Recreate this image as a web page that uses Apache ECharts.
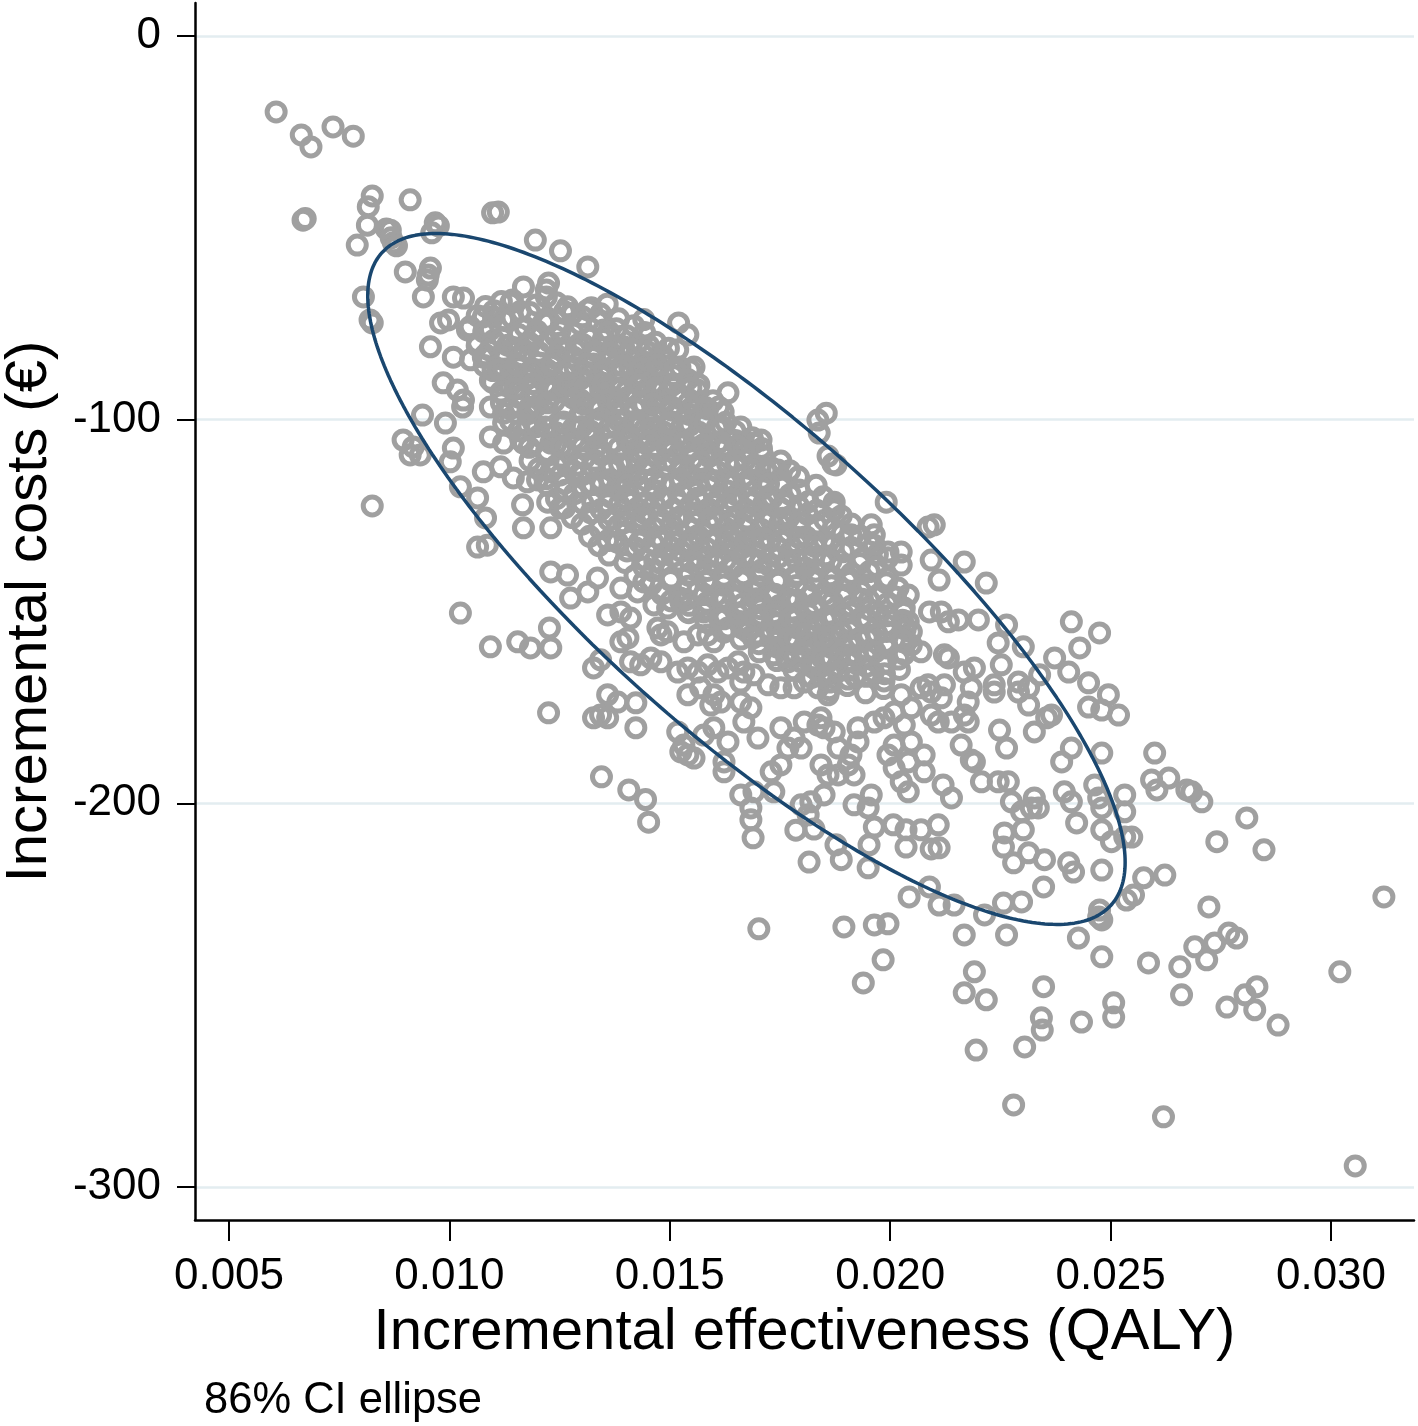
<!DOCTYPE html>
<html><head><meta charset="utf-8">
<script src="https://cdn.jsdelivr.net/npm/echarts@6/dist/echarts.min.js"></script>
<style>html,body{margin:0;padding:0;background:#fff}#c{width:1418px;height:1426px}</style>
</head><body><div id="c"></div>
<script>
const xTicks = [0.005, 0.010, 0.015, 0.020, 0.025, 0.030];
const yTicks = [0, -100, -200, -300];
const xTitle = 'Incremental effectiveness (QALY)';
const yTitle = 'Incremental costs (€)';
const note = '86% CI ellipse';

const upperLeftPoints = [
[0.00607,-19.8],[0.00664,-25.8],[0.00686,-28.9],[0.00736,-23.7],[0.00782,-26.1],[0.00668,-48.0],[0.00673,-47.6],
[0.00825,-41.7],[0.00816,-44.5],[0.00814,-49.3],[0.00791,-54.5],[0.00911,-42.7],[0.00866,-50.6],[0.00873,-53.9],
[0.00857,-50.3],[0.00868,-52.6],[0.0088,-54.7],[0.00968,-48.7],[0.0096,-51.3],[0.00975,-49.5],[0.01098,-46.1],[0.01111,-45.9],
[0.00805,-68.0],[0.0082,-74.0],[0.00825,-74.8],[0.009,-61.5],[0.00957,-60.5],[0.00952,-62.3],[0.0095,-63.6],[0.00941,-68.0],
[0.01009,-68.0],[0.01032,-68.3],[0.01195,-53.2],[0.01252,-56.0],[0.01314,-60.2],[0.01168,-65.4],[0.01143,-68.8],[0.0122,-66.2],[0.0122,-68.0],
[0.0098,-74.8],[0.00998,-74.0],[0.00957,-81.0],[0.011,-73.2],[0.01123,-74.0],[0.01041,-76.6],[0.01064,-80.0],[0.00986,-90.4],
[0.01018,-92.3],[0.01032,-94.9],[0.0103,-96.7],[0.01009,-83.7],[0.01048,-84.4],[0.01077,-83.7],[0.01093,-89.7],[0.01123,-87.8],[0.01155,-89.7],
[0.01155,-81.8],[0.01177,-80.0],[0.01191,-78.4],[0.01093,-96.7],[0.01123,-98.3],[0.01123,-100.9],[0.00939,-98.8],[0.00991,-100.9],
[0.00895,-105.3],[0.00918,-107.1],[0.01009,-107.4],[0.01093,-104.5],[0.01123,-106.1],[0.01168,-106.1],[0.01191,-96.7],[0.01191,-100.9],
[0.01077,-73.2],[0.01139,-69.6],
[0.01225,-64.4],[0.01268,-70.6],[0.01314,-71.4],[0.0135,-76.6],[0.01395,-81.0],[0.01377,-85.7],[0.01427,-84.4],[0.01457,-85.2],[0.01473,-87.0],
[0.0152,-74.8],[0.01541,-77.9],[0.01518,-81.8],[0.01555,-86.3],[0.01507,-87.0],[0.01632,-93.0],[0.01611,-96.7],[0.01555,-97.5],[0.01661,-101.9],[0.01707,-105.3],
[0.01836,-100.1],[0.01855,-98.3],[0.01839,-103.5],[0.01441,-90.4],[0.01464,-92.3],[0.01434,-95.6],[0.01489,-95.6],[0.01505,-97.5],
[0.01282,-83.7],[0.0132,-87.8],[0.01343,-92.3],[0.01373,-96.7],[0.01395,-100.1],[0.01411,-105.3],[0.01457,-100.9],[0.01473,-104.5],[0.01502,-106.1],
[0.01223,-74.8],[0.01252,-80.0],[0.01236,-85.2],[0.01268,-90.4],[0.01223,-92.3],[0.01298,-94.9],[0.01252,-100.9],[0.01314,-102.7],[0.0123,-106.1],
[0.01555,-104.5],[0.01586,-106.1],[0.01616,-107.9],[0.01661,-106.1],[0.01691,-106.1],
[0.01859,-109.5],[0.0187,-111.5],[0.01745,-113.1],[0.01718,-113.1]
];

const lowerLeftPoints = [
[0.00825,-122.5],[0.00911,-109.2],[0.00934,-109.2],[0.01002,-111.0],[0.01025,-117.5],[0.01064,-120.4],[0.01082,-125.6],[0.01064,-133.2],[0.01086,-132.7],
[0.01077,-113.6],[0.01116,-112.3],[0.01145,-115.2],[0.01177,-116.2],[0.012,-115.7],[0.01166,-122.2],[0.01168,-128.2],
[0.01025,-150.4],[0.01093,-159.2],[0.01155,-157.9],[0.01184,-159.5],[0.01225,-176.4],[0.01227,-154.3],
[0.01345,-193.1],[0.01407,-196.5],[0.01445,-199.0],[0.01452,-204.9],
[0.01689,-209.0],[0.01684,-204.3],[0.01786,-207.0],[0.01827,-206.7],[0.01816,-215.3],[0.01702,-232.7],
[0.0123,-139.7],[0.01268,-140.5],[0.01275,-146.5],[0.01314,-144.9],[0.01336,-141.3],[0.0123,-159.5],
[0.01327,-164.7],[0.01343,-162.6],[0.01359,-171.7],[0.01382,-173.6],[0.01343,-177.0],[0.01327,-177.7],[0.01359,-177.7],[0.01423,-173.8],[0.01423,-180.3],
[0.01518,-181.4],[0.01532,-184.8],[0.01541,-187.4],[0.01555,-188.2],[0.01525,-186.6],[0.01577,-182.2],[0.016,-180.3],[0.01632,-184.0],[0.01623,-189.2],[0.01623,-191.8],
[0.01661,-173.6],[0.01668,-178.8],[0.01684,-175.1],[0.017,-183.0],[0.01661,-197.8],[0.01684,-201.2],[0.01691,-197.0],
[0.0173,-191.8],[0.01752,-190.0],[0.01736,-197.0],[0.01752,-180.3],[0.01782,-183.0],[0.01798,-185.6],[0.01768,-185.6],
[0.01805,-178.8],[0.01836,-179.6],[0.0185,-180.3],[0.01798,-200.4],[0.0182,-199.6],[0.01814,-203.0],[0.0185,-197.8],[0.01843,-190.0],[0.01859,-192.6],
[0.01541,-171.7],[0.0157,-169.9],[0.016,-171.7],[0.01616,-173.6],[0.01593,-174.4],
[0.01518,-165.8],[0.01541,-164.7],[0.01564,-165.8],[0.01586,-163.9],[0.01609,-165.8],[0.01632,-164.7],[0.01655,-163.1],[0.01668,-165.8],[0.01691,-166.5],[0.01661,-168.4],
[0.01723,-169.1],[0.01752,-169.9],[0.01782,-169.9],[0.01805,-168.4],
[0.01457,-162.1],[0.0148,-163.1],[0.01434,-163.9],[0.01411,-163.1],[0.01389,-157.9],[0.01405,-156.9],
[0.01359,-150.9],[0.01389,-150.1],[0.01411,-151.7],[0.01473,-154.3],[0.0148,-156.1],[0.01495,-155.3],
[0.01532,-157.9],[0.01564,-156.1],[0.01586,-156.1],[0.016,-157.9],
[0.0123,-113.6],[0.01252,-114.4],[0.01223,-121.5],[0.01252,-123.0],[0.0123,-128.2],
[0.01389,-143.9],[0.01427,-144.9],[0.01441,-142.3],[0.01464,-148.3],[0.01495,-149.1],[0.01525,-147.5],[0.01541,-150.1],[0.01577,-150.1],
[0.01632,-154.3],[0.01661,-152.7],[0.01677,-155.3],
[0.01707,-150.9],[0.01736,-152.7],[0.01752,-156.1],[0.01782,-157.9],[0.01814,-154.3],[0.01827,-159.5],[0.0185,-157.9],
[0.01736,-161.3],[0.01768,-163.1],[0.01798,-163.1],[0.01827,-164.7],[0.01859,-163.1],
[0.01843,-177.7],[0.01859,-171.7],[0.01836,-169.9]
];

const rightPoints = [
[0.01895,-232.2],[0.01964,-231.7],[0.01995,-231.4],[0.01984,-240.8],[0.01939,-246.8],[0.02168,-234.3],[0.02191,-243.9],[0.02168,-249.4],[0.02218,-251.2],[0.02195,-264.3],
[0.02264,-234.3],[0.02348,-247.8],[0.02343,-255.9],[0.02345,-259.1],[0.02305,-263.5],[0.0228,-278.6],[0.02434,-257.0],[0.02427,-235.1],[0.0248,-240.0],
[0.02507,-252.0],[0.02507,-255.7],[0.02475,-227.8],[0.0248,-230.4],[0.02473,-229.6],[0.0248,-217.4],[0.02043,-224.4],[0.02089,-221.8],[0.02111,-226.5],[0.02145,-226.5],
[0.02214,-229.1],[0.02257,-226.0],[0.02298,-225.7],[0.02348,-221.8],[0.01889,-214.7],[0.01877,-210.8],[0.0195,-216.8],[0.01952,-210.8],
[0.01964,-206.2],[0.02007,-205.6],[0.02036,-206.9],[0.0207,-206.9],[0.02109,-205.6],[0.02036,-211.4],[0.02093,-211.9],[0.02111,-211.6],
[0.02259,-207.7],[0.02257,-211.4],[0.0228,-215.5],[0.02302,-206.9],[0.02314,-212.9],[0.0235,-214.7],[0.02405,-215.5],[0.02416,-217.9],
[0.02423,-205.1],[0.0248,-206.9],[0.02502,-210.0],
[0.026,-186.9],[0.02593,-193.9],[0.02605,-196.5],[0.02632,-193.4],[0.02673,-196.5],[0.02684,-197.0],[0.02707,-199.6],
[0.02532,-197.8],[0.02532,-202.2],[0.02532,-208.8],[0.02548,-208.8],[0.02809,-203.8],[0.02741,-210.0],[0.02848,-212.1],
[0.02575,-219.4],[0.02623,-218.7],[0.02552,-223.9],[0.02536,-225.2],[0.0312,-224.4],[0.02723,-227.0],[0.02768,-233.8],[0.02786,-235.1],
[0.02691,-237.4],[0.02736,-236.4],[0.02718,-240.8],[0.02586,-241.6],[0.02657,-242.6],[0.02661,-249.9],[0.02764,-253.1],[0.02805,-249.9],[0.02832,-247.8],[0.02827,-253.8],
[0.0288,-257.8],[0.0302,-243.9],[0.0262,-281.7],[0.03055,-294.5],
[0.01877,-111.8],[0.01991,-121.5],[0.02086,-128.0],[0.021,-127.4],[0.02168,-137.1],[0.02218,-142.6],[0.02093,-136.6],[0.02111,-141.8],
[0.02411,-152.7],[0.02475,-155.6],[0.02264,-153.5],[0.02245,-158.2],[0.02302,-159.2],[0.0243,-159.5],[0.02373,-162.1],[0.02405,-165.8],[0.02339,-166.5],
[0.0245,-168.6],[0.02495,-171.7],[0.02518,-177.0],
[0.0245,-174.9],[0.0248,-175.7],[0.02314,-174.4],[0.02355,-177.7],[0.02366,-177.0],[0.02327,-181.4],[0.02248,-180.9],[0.02264,-185.6],
[0.02411,-185.6],[0.02389,-189.2],[0.0248,-186.9],
[0.02236,-169.1],[0.02236,-171.0],[0.02291,-168.4],[0.02291,-171.0],[0.02314,-169.9],[0.02252,-163.9],
[0.02168,-165.8],[0.02191,-164.7],[0.02184,-169.9],[0.02177,-173.6],[0.02155,-152.2],[0.022,-152.2],[0.02168,-177.0],[0.02177,-178.8],
[0.02161,-184.8],[0.02184,-188.7],[0.02191,-189.2],[0.02207,-194.4],[0.02245,-194.4],[0.02268,-194.4],[0.0212,-195.2],[0.02139,-198.6],
[0.02327,-198.6],[0.02336,-201.2],[0.02395,-197.0],[0.02411,-199.6],[0.02464,-195.2],[0.02473,-198.6],[0.0248,-201.2],
[0.02275,-199.6],[0.02298,-202.2],[0.0232,-201.2],
[0.0207,-169.9],[0.02086,-169.1],[0.02093,-171.0],[0.02116,-172.5],[0.02123,-169.1],[0.02093,-177.0],[0.02109,-178.8],[0.02139,-178.8],
[0.0207,-160.5],[0.02048,-158.7],[0.02123,-161.3],[0.02132,-162.1],[0.02089,-150.1],[0.02116,-150.1],[0.02132,-152.7],
[0.02041,-152.7],[0.02048,-155.3],[0.02032,-157.9],
[0.02025,-134.5],[0.02025,-137.9],[0.01995,-136.0],[0.01995,-134.5],[0.01964,-132.7],[0.01964,-130.0],[0.01957,-127.4],[0.01911,-130.0],
[0.01873,-121.5],[0.01873,-123.5],[0.02018,-143.9],[0.02041,-145.7],[0.02032,-149.1],
[0.02025,-171.7],[0.02048,-175.1],[0.02032,-179.6],[0.02048,-184.0],[0.02009,-184.8],
[0.01995,-187.4],[0.02009,-190.8],[0.02041,-189.2],[0.02025,-194.4],[0.02041,-197.0],[0.02077,-187.4],[0.02077,-191.8],
[0.01957,-197.8],[0.01918,-200.4],[0.0195,-201.2],
[0.01873,-181.4],[0.01882,-185.6],[0.01905,-190.0],[0.01918,-192.6],[0.01882,-192.6],[0.01911,-187.4],[0.01927,-180.3],[0.01927,-184.0],
[0.01964,-178.8],[0.01986,-177.7],[0.02009,-176.2]
];

// estimated positions inside the dense, overlapping core
const corePoints = [
[0.01082,-70.5],[0.01118,-69.2],[0.01161,-71.8],[0.01197,-70.1],[0.01243,-69.5],[0.01279,-72.3],[0.01322,-70.8],[0.01358,-69.9],
[0.01047,-75.8],[0.01093,-76.5],[0.01128,-74.2],[0.01172,-75.9],[0.01214,-74.6],[0.01251,-76.8],[0.01296,-75.1],[0.01337,-74.4],[0.01379,-76.3],[0.01418,-75.5],[0.01441,-73.9],
[0.01063,-80.7],[0.01101,-79.3],[0.01145,-81.2],[0.01183,-80.1],[0.01226,-79.6],[0.01264,-81.9],[0.01303,-80.4],[0.01349,-79.1],[0.01386,-81.5],[0.01427,-80.2],[0.01468,-79.8],[0.01497,-81.4],
[0.01079,-85.9],[0.01121,-84.3],[0.01158,-86.1],[0.01204,-85.2],[0.01242,-84.1],[0.01285,-86.4],[0.01327,-85.5],[0.01366,-84.2],[0.01409,-86.2],[0.01448,-85.1],[0.01489,-84.6],[0.01523,-86.3],
[0.01098,-90.3],[0.01137,-91.4],[0.01176,-89.2],[0.01219,-90.8],[0.01259,-91.6],[0.01297,-89.4],[0.01339,-90.1],[0.01382,-91.8],[0.01421,-89.7],[0.01462,-90.6],[0.01503,-91.2],[0.01541,-89.5],[0.01566,-90.9],
[0.01118,-95.6],[0.01157,-94.1],[0.01199,-96.3],[0.01238,-95.2],[0.01281,-94.4],[0.01322,-96.5],[0.01361,-95.3],[0.01403,-94.2],[0.01441,-96.1],[0.01483,-95.4],[0.01524,-94.6],[0.01562,-96.2],[0.01598,-95.1],
[0.01139,-100.4],[0.01178,-101.6],[0.01221,-99.3],[0.01262,-100.9],[0.01301,-101.8],[0.01343,-99.6],[0.01384,-100.3],[0.01426,-101.9],[0.01463,-99.5],[0.01505,-100.6],[0.01546,-101.4],[0.01584,-99.8],[0.01627,-100.7],
[0.01162,-105.3],[0.01203,-104.2],[0.01241,-106.4],[0.01283,-105.1],[0.01324,-104.3],[0.01366,-106.2],[0.01404,-105.6],[0.01447,-104.1],[0.01488,-106.1],[0.01527,-105.2],[0.01569,-104.6],[0.01608,-106.3],[0.01649,-105.4],[0.01687,-104.7],
[0.01183,-110.7],[0.01221,-109.4],[0.01264,-111.2],[0.01306,-110.1],[0.01345,-109.2],[0.01386,-111.5],[0.01428,-110.4],[0.01469,-109.3],[0.01508,-111.1],[0.01551,-110.2],[0.01589,-109.6],[0.01631,-111.4],[0.01672,-110.5],[0.01711,-109.4],[0.01752,-110.8],
[0.01219,-115.4],[0.01261,-116.6],[0.01302,-114.3],[0.01343,-115.9],[0.01384,-116.7],[0.01424,-114.5],[0.01465,-115.3],[0.01506,-116.8],[0.01547,-114.6],[0.01588,-115.7],[0.01629,-116.4],[0.01669,-114.8],[0.01709,-115.6],[0.01751,-116.5],[0.01792,-114.9],
[0.01243,-120.6],[0.01284,-119.3],[0.01325,-121.4],[0.01366,-120.2],[0.01406,-119.4],[0.01447,-121.6],[0.01488,-120.5],[0.01528,-119.2],[0.01569,-121.3],[0.01611,-120.4],[0.01651,-119.6],[0.01692,-121.2],[0.01733,-120.3],[0.01773,-119.5],[0.01814,-121.4],[0.01848,-120.1],
[0.01279,-125.5],[0.01321,-124.3],[0.01362,-126.2],[0.01402,-125.1],[0.01443,-124.4],[0.01484,-126.3],[0.01526,-125.2],[0.01566,-124.1],[0.01607,-126.4],[0.01648,-125.3],[0.01689,-124.2],[0.01729,-126.1],[0.01771,-125.4],[0.01812,-124.6],[0.01852,-126.2],[0.01889,-125.1],
[0.01318,-130.4],[0.01359,-131.5],[0.01401,-129.3],[0.01442,-130.8],[0.01482,-131.6],[0.01523,-129.4],[0.01564,-130.2],[0.01605,-131.7],[0.01646,-129.5],[0.01687,-130.6],[0.01728,-131.3],[0.01769,-129.6],[0.01809,-130.5],[0.01851,-131.4],[0.01891,-129.7],[0.01932,-130.3],
[0.01362,-135.3],[0.01403,-134.2],[0.01444,-136.4],[0.01485,-135.1],[0.01526,-134.3],[0.01567,-136.2],[0.01608,-135.4],[0.01649,-134.1],[0.01689,-136.3],[0.01731,-135.2],[0.01772,-134.5],[0.01812,-136.1],[0.01853,-135.5],[0.01894,-134.4],[0.01936,-136.2],[0.01971,-135.1],
[0.01421,-140.6],[0.01462,-139.4],[0.01503,-141.3],[0.01544,-140.2],[0.01585,-139.3],[0.01626,-141.5],[0.01667,-140.4],[0.01708,-139.2],[0.01749,-141.4],[0.01789,-140.3],[0.01831,-139.5],[0.01872,-141.2],[0.01912,-140.1],[0.01953,-139.6],[0.01994,-141.3],
[0.01482,-145.4],[0.01523,-146.5],[0.01564,-144.3],[0.01605,-145.8],[0.01646,-146.4],[0.01687,-144.6],[0.01728,-145.3],[0.01769,-146.6],[0.01809,-144.4],[0.01851,-145.5],[0.01892,-146.3],[0.01933,-144.7],[0.01974,-145.6],[0.02012,-146.2],
[0.01543,-150.3],[0.01584,-149.4],[0.01625,-151.2],[0.01666,-150.1],[0.01707,-149.3],[0.01748,-151.4],[0.01789,-150.5],[0.01829,-149.2],[0.01871,-151.3],[0.01912,-150.4],[0.01953,-149.5],[0.01994,-151.1],[0.02031,-150.2],
[0.01623,-155.4],[0.01664,-154.3],[0.01705,-156.2],[0.01746,-155.1],[0.01787,-154.2],[0.01828,-156.4],[0.01869,-155.3],[0.01909,-154.5],[0.01951,-156.1],[0.01992,-155.2],[0.02034,-154.6],
[0.01703,-160.5],[0.01744,-159.3],[0.01785,-161.2],[0.01826,-160.1],[0.01867,-159.4],[0.01908,-161.3],[0.01949,-160.2],[0.01991,-159.5],[0.02032,-161.1],
[0.01782,-165.3],[0.01823,-164.2],[0.01864,-166.1],[0.01905,-165.4],[0.01946,-164.3],[0.01987,-166.2],[0.02021,-165.1],
[0.01862,-170.4],[0.01903,-169.3],[0.01944,-171.2],[0.01985,-170.1]
];

// second layer of estimated positions in the overlapping core
const coreInterleaved = [
[0.01063,-72.9],[0.01101,-71.6],[0.01142,-73.4],[0.01183,-72.1],[0.01222,-73.8],[0.01261,-71.9],[0.01302,-73.2],[0.01343,-72.4],[0.01384,-73.7],
[0.01078,-77.1],[0.01119,-78.6],[0.01158,-77.9],[0.01198,-76.8],[0.01241,-78.3],[0.01281,-77.4],[0.01318,-78.8],[0.01361,-77.0],[0.01402,-78.1],[0.01443,-77.3],
[0.01082,-83.1],[0.01123,-82.2],[0.01164,-83.6],[0.01203,-82.4],[0.01244,-83.3],[0.01286,-82.0],[0.01325,-83.8],[0.01367,-82.6],[0.01406,-83.2],[0.01447,-82.1],[0.01486,-83.5],
[0.01099,-87.2],[0.01141,-88.4],[0.01182,-87.6],[0.01221,-86.9],[0.01263,-88.1],[0.01304,-87.3],[0.01345,-88.6],[0.01386,-87.1],[0.01425,-88.2],[0.01467,-87.4],[0.01508,-88.5],[0.01546,-87.0],
[0.01117,-92.8],[0.01158,-91.9],[0.01197,-93.4],[0.01239,-92.2],[0.01281,-93.1],[0.01319,-92.0],[0.01361,-93.6],[0.01402,-92.5],[0.01443,-93.3],[0.01484,-92.1],[0.01522,-93.5],[0.01563,-92.3],
[0.01138,-97.1],[0.01179,-98.4],[0.01218,-97.6],[0.01259,-96.9],[0.01302,-98.2],[0.01341,-97.3],[0.01382,-98.5],[0.01423,-97.0],[0.01464,-98.1],[0.01503,-97.4],[0.01544,-98.6],[0.01586,-97.2],[0.01621,-98.0],
[0.01157,-102.9],[0.01198,-101.8],[0.01242,-103.4],[0.01281,-102.2],[0.01322,-103.1],[0.01363,-102.0],[0.01404,-103.5],[0.01443,-102.4],[0.01486,-103.2],[0.01527,-101.9],[0.01566,-103.3],[0.01607,-102.1],[0.01648,-103.0],
[0.01181,-107.2],[0.01222,-108.3],[0.01263,-107.6],[0.01302,-106.9],[0.01343,-108.1],[0.01384,-107.3],[0.01426,-108.5],[0.01467,-107.0],[0.01506,-108.2],[0.01548,-107.4],[0.01589,-108.6],[0.01628,-107.1],[0.01669,-108.0],[0.01708,-107.5],
[0.01202,-112.8],[0.01243,-111.9],[0.01282,-113.4],[0.01323,-112.2],[0.01366,-113.1],[0.01405,-112.0],[0.01446,-113.6],[0.01487,-112.4],[0.01528,-113.2],[0.01569,-112.1],[0.01608,-113.5],[0.01651,-112.3],[0.01692,-113.0],[0.01731,-112.6],[0.01772,-113.3],
[0.01224,-117.2],[0.01263,-118.4],[0.01304,-117.6],[0.01345,-116.9],[0.01386,-118.2],[0.01427,-117.3],[0.01468,-118.5],[0.01507,-117.0],[0.01548,-118.1],[0.01589,-117.4],[0.01631,-118.6],[0.01672,-117.2],[0.01711,-118.0],[0.01752,-117.5],[0.01793,-118.3],[0.01832,-117.1],
[0.01262,-122.9],[0.01303,-121.8],[0.01344,-123.4],[0.01385,-122.2],[0.01426,-123.1],[0.01465,-122.0],[0.01506,-123.5],[0.01547,-122.4],[0.01588,-123.2],[0.01629,-121.9],[0.01671,-123.3],[0.01712,-122.1],[0.01751,-123.0],[0.01792,-122.5],[0.01833,-123.6],[0.01871,-122.3],
[0.01301,-127.2],[0.01342,-128.4],[0.01383,-127.6],[0.01422,-126.9],[0.01463,-128.1],[0.01504,-127.3],[0.01546,-128.5],[0.01587,-127.0],[0.01626,-128.2],[0.01667,-127.4],[0.01708,-128.6],[0.01749,-127.1],[0.01791,-128.0],[0.01832,-127.5],[0.01871,-128.3],[0.01912,-127.2],
[0.01339,-132.8],[0.01381,-131.9],[0.01422,-133.4],[0.01463,-132.2],[0.01502,-133.1],[0.01543,-132.0],[0.01584,-133.6],[0.01626,-132.4],[0.01667,-133.2],[0.01706,-132.1],[0.01747,-133.5],[0.01788,-132.3],[0.01829,-133.0],[0.01871,-132.6],[0.01911,-133.3],[0.01952,-132.2],
[0.01398,-137.2],[0.01441,-138.4],[0.01482,-137.6],[0.01523,-136.9],[0.01562,-138.2],[0.01603,-137.3],[0.01644,-138.5],[0.01686,-137.0],[0.01727,-138.1],[0.01766,-137.4],[0.01807,-138.6],[0.01848,-137.1],[0.01889,-138.0],[0.01931,-137.5],[0.01969,-138.3],
[0.01458,-142.9],[0.01501,-141.8],[0.01542,-143.4],[0.01583,-142.2],[0.01622,-143.1],[0.01663,-142.0],[0.01704,-143.5],[0.01746,-142.4],[0.01787,-143.2],[0.01826,-141.9],[0.01867,-143.3],[0.01908,-142.1],[0.01949,-143.0],[0.01991,-142.5],
[0.01503,-147.2],[0.01544,-148.4],[0.01585,-147.6],[0.01624,-146.9],[0.01665,-148.1],[0.01706,-147.3],[0.01748,-148.5],[0.01789,-147.0],[0.01828,-148.2],[0.01869,-147.4],[0.01911,-148.6],[0.01952,-147.1],[0.01993,-148.0],
[0.01582,-152.8],[0.01623,-151.9],[0.01664,-153.4],[0.01705,-152.2],[0.01744,-153.1],[0.01786,-152.0],[0.01827,-153.6],[0.01868,-152.4],[0.01909,-153.2],[0.01949,-152.1],[0.01991,-153.5],[0.02028,-152.3],
[0.01661,-157.2],[0.01702,-158.4],[0.01743,-157.6],[0.01784,-156.9],[0.01826,-158.2],[0.01866,-157.3],[0.01907,-158.5],[0.01948,-157.0],[0.01989,-158.1],[0.02027,-157.4],
[0.01743,-162.8],[0.01784,-161.9],[0.01825,-163.4],[0.01866,-162.2],[0.01906,-163.1],[0.01947,-162.0],[0.01988,-163.5],[0.02019,-162.4],
[0.01822,-167.2],[0.01863,-168.4],[0.01904,-167.6],[0.01945,-166.9],[0.01986,-168.1]
];

// third layer: the solid grey band along the middle of the cloud
const coreCentralBand = [
[0.01091,-81.9],[0.01132,-80.6],[0.01171,-82.0],[0.01212,-80.8],[0.01251,-81.7],[0.01292,-80.5],[0.01331,-82.1],[0.01372,-80.9],[0.01413,-81.6],[0.01452,-80.7],
[0.01111,-86.9],[0.01152,-85.6],[0.01191,-87.0],[0.01232,-85.8],[0.01271,-86.7],[0.01312,-85.5],[0.01351,-87.1],[0.01392,-85.9],[0.01433,-86.6],[0.01472,-85.7],[0.01511,-86.8],
[0.01148,-91.9],[0.01189,-90.6],[0.01228,-92.0],[0.01269,-90.8],[0.01308,-91.7],[0.01349,-90.5],[0.01388,-92.1],[0.01429,-90.9],[0.01470,-91.6],[0.01509,-90.7],[0.01548,-91.8],
[0.01181,-96.9],[0.01222,-95.6],[0.01261,-97.0],[0.01302,-95.8],[0.01341,-96.7],[0.01382,-95.5],[0.01421,-97.1],[0.01462,-95.9],[0.01503,-96.6],[0.01542,-95.7],[0.01581,-96.8],
[0.01218,-101.9],[0.01259,-100.6],[0.01298,-102.0],[0.01339,-100.8],[0.01378,-101.7],[0.01419,-100.5],[0.01458,-102.1],[0.01499,-100.9],[0.01540,-101.6],[0.01579,-100.7],[0.01618,-101.8],
[0.01253,-106.9],[0.01294,-105.6],[0.01333,-107.0],[0.01374,-105.8],[0.01413,-106.7],[0.01454,-105.5],[0.01493,-107.1],[0.01534,-105.9],[0.01575,-106.6],[0.01614,-105.7],[0.01653,-106.8],
[0.01289,-111.9],[0.01330,-110.6],[0.01369,-112.0],[0.01410,-110.8],[0.01449,-111.7],[0.01490,-110.5],[0.01529,-112.1],[0.01570,-110.9],[0.01611,-111.6],[0.01650,-110.7],[0.01689,-111.8],
[0.01324,-116.9],[0.01365,-115.6],[0.01404,-117.0],[0.01445,-115.8],[0.01484,-116.7],[0.01525,-115.5],[0.01564,-117.1],[0.01605,-115.9],[0.01646,-116.6],[0.01685,-115.7],[0.01724,-116.8],
[0.01360,-121.9],[0.01401,-120.6],[0.01440,-122.0],[0.01481,-120.8],[0.01520,-121.7],[0.01561,-120.5],[0.01600,-122.1],[0.01641,-120.9],[0.01682,-121.6],[0.01721,-120.7],[0.01760,-121.8],
[0.01395,-126.9],[0.01436,-125.6],[0.01475,-127.0],[0.01516,-125.8],[0.01555,-126.7],[0.01596,-125.5],[0.01635,-127.1],[0.01676,-125.9],[0.01717,-126.6],[0.01756,-125.7],[0.01795,-126.8],
[0.01431,-131.9],[0.01472,-130.6],[0.01511,-132.0],[0.01552,-130.8],[0.01591,-131.7],[0.01632,-130.5],[0.01671,-132.1],[0.01712,-130.9],[0.01753,-131.6],[0.01792,-130.7],[0.01831,-131.8],
[0.01466,-136.9],[0.01507,-135.6],[0.01546,-137.0],[0.01587,-135.8],[0.01626,-136.7],[0.01667,-135.5],[0.01706,-137.1],[0.01747,-135.9],[0.01788,-136.6],[0.01827,-135.7],[0.01866,-136.8],
[0.01502,-141.9],[0.01543,-140.6],[0.01582,-142.0],[0.01623,-140.8],[0.01662,-141.7],[0.01703,-140.5],[0.01742,-142.1],[0.01783,-140.9],[0.01824,-141.6],[0.01863,-140.7],[0.01902,-141.8],
[0.01537,-146.9],[0.01578,-145.6],[0.01617,-147.0],[0.01658,-145.8],[0.01697,-146.7],[0.01738,-145.5],[0.01777,-147.1],[0.01818,-145.9],[0.01859,-146.6],[0.01898,-145.7],[0.01937,-146.8],
[0.01613,-151.9],[0.01654,-150.6],[0.01693,-152.0],[0.01734,-150.8],[0.01773,-151.7],[0.01814,-150.5],[0.01853,-152.1],[0.01894,-150.9],[0.01935,-151.6],[0.01974,-150.7],
[0.01689,-156.9],[0.01730,-155.6],[0.01769,-157.0],[0.01810,-155.8],[0.01849,-156.7],[0.01890,-155.5],[0.01929,-157.1],[0.01970,-155.9],
[0.01765,-161.9],[0.01806,-160.6],[0.01845,-162.0],[0.01886,-160.8],[0.01925,-161.7],[0.01966,-160.5],
[0.01843,-166.9],[0.01882,-165.6],[0.01921,-167.0],[0.01962,-165.8]
];

// 86% CI ellipse, parameters
const ellipseCenter = [0.016739, -141.52];
const ellipseHalfX = 0.008591;
const ellipseHalfY = 90.04;
const ellipseCorr = -0.82;

const allPoints = upperLeftPoints.concat(lowerLeftPoints, rightPoints, corePoints, coreInterleaved, coreCentralBand);
const ellipse = [];
const nSeg = 360;
const sq = Math.sqrt(1 - ellipseCorr * ellipseCorr);
for (let i = 0; i <= nSeg; i++) {
  const t = 2 * Math.PI * i / nSeg;
  ellipse.push([ellipseCenter[0] + ellipseHalfX * Math.cos(t),
                ellipseCenter[1] + ellipseHalfY * (ellipseCorr * Math.cos(t) + sq * Math.sin(t))]);
}

const FONT = "'Liberation Sans', Arial, sans-serif";
const chart = echarts.init(document.getElementById('c'), null, {renderer: 'canvas'});
chart.setOption({
  animation: false,
  backgroundColor: '#ffffff',
  grid: {left: 195, right: 4, top: 3, bottom: 206, containLabel: false, outerBoundsMode: 'none'},
  xAxis: {
    type: 'value', min: 0.004229, max: 0.031883,
    axisLine: {show: true, onZero: false, lineStyle: {color: '#000', width: 2.5}},
    axisTick: {show: true, customValues: xTicks, length: 21, lineStyle: {color: '#000', width: 2}},
    axisLabel: {customValues: xTicks, formatter: v => v.toFixed(3), fontSize: 44, color: '#000', fontFamily: FONT, margin: 35},
    splitLine: {show: false},
    name: xTitle, nameLocation: 'middle', nameGap: 81,
    nameTextStyle: {fontSize: 58, color: '#000', fontFamily: FONT}
  },
  yAxis: {
    type: 'value', min: -308.6, max: 8.6,
    axisLine: {show: true, onZero: false, lineStyle: {color: '#000', width: 2.5}},
    axisTick: {show: true, customValues: yTicks, length: 18, lineStyle: {color: '#000', width: 2}},
    axisLabel: {customValues: yTicks, formatter: v => String(Math.round(v)), fontSize: 44, color: '#000', fontFamily: FONT, margin: 34},
    splitLine: {show: false},
    name: yTitle, nameLocation: 'middle', nameGap: 136,
    nameTextStyle: {fontSize: 58, color: '#000', fontFamily: FONT}
  },
  graphic: [{
    type: 'text', left: 204, top: 1379,
    style: {text: note, fontSize: 43.5, fill: '#000', fontFamily: FONT}
  }],
  series: [
    {
      type: 'line', data: [], z: 0, silent: true,
      markLine: {
        z: 0, silent: true, symbol: 'none', label: {show: false},
        lineStyle: {color: '#e3edf0', width: 2.5, type: 'solid'},
        data: yTicks.map(v => ({yAxis: v}))
      }
    },
    {
      type: 'scatter', data: allPoints, z: 2, silent: true, large: false,
      symbol: 'circle', symbolSize: 18,
      itemStyle: {color: 'rgba(0,0,0,0)', borderColor: '#a0a0a0', borderWidth: 5, opacity: 1}
    },
    {
      type: 'line', data: ellipse, z: 3, silent: true,
      showSymbol: false, smooth: false,
      lineStyle: {color: '#1a476f', width: 3.5}
    }
  ]
});
</script>
</body></html>
